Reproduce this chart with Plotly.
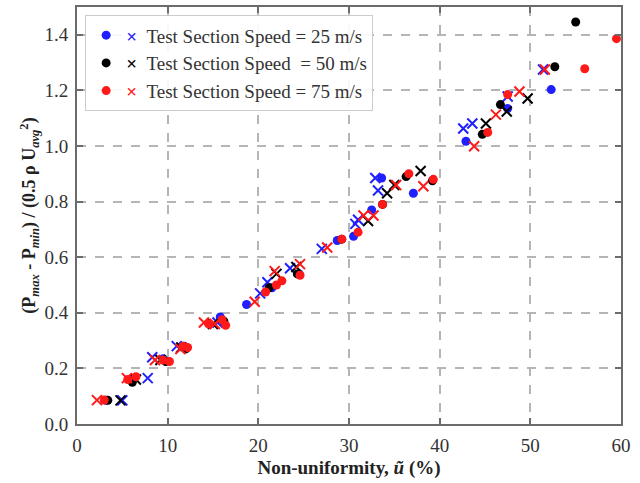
import plotly.graph_objects as go

# ---- data (x = non-uniformity %, y = normalized pressure difference) ----
blue_circ_x = [3.2, 6.0, 9.5, 11.8, 15.8, 18.7, 21.5, 24.5, 28.7, 30.5, 32.5, 33.6, 37.1, 42.9, 47.5, 52.3]
blue_circ_y = [0.085, 0.16, 0.235, 0.28, 0.385, 0.43, 0.49, 0.54, 0.66, 0.675, 0.77, 0.885, 0.83, 1.017, 1.135, 1.203]

blue_x_x = [5.0, 7.8, 8.3, 11.0, 15.5, 20.2, 21.0, 23.5, 27.0, 30.7, 31.0, 33.2, 32.9, 42.6, 43.6, 47.5, 51.4]
blue_x_y = [0.085, 0.165, 0.24, 0.28, 0.365, 0.47, 0.51, 0.56, 0.63, 0.72, 0.735, 0.84, 0.885, 1.063, 1.081, 1.178, 1.275]

black_circ_x = [3.4, 6.1, 9.8, 12.0, 16.2, 21.2, 24.3, 29.2, 33.7, 36.3, 39.2, 44.7, 46.7, 52.7, 55.0]
black_circ_y = [0.085, 0.15, 0.225, 0.27, 0.37, 0.49, 0.54, 0.665, 0.79, 0.89, 0.875, 1.042, 1.149, 1.285, 1.446]

black_x_x = [4.8, 6.5, 9.2, 11.5, 15.0, 22.0, 24.2, 32.1, 34.2, 35.0, 37.9, 45.1, 47.4, 49.7]
black_x_y = [0.085, 0.16, 0.23, 0.275, 0.36, 0.54, 0.565, 0.73, 0.83, 0.86, 0.91, 1.081, 1.124, 1.171]

red_circ_x = [3.0, 5.6, 6.5, 9.5, 10.2, 11.7, 12.2, 14.5, 16.0, 16.4, 20.8, 22.0, 22.6, 24.6, 29.2, 31.0, 33.7, 36.6, 39.3, 45.3, 47.5, 56.0, 59.5]
red_circ_y = [0.086, 0.16, 0.17, 0.23, 0.225, 0.28, 0.275, 0.36, 0.375, 0.355, 0.475, 0.5, 0.515, 0.535, 0.665, 0.69, 0.79, 0.9, 0.88, 1.049, 1.185, 1.278, 1.386]

red_x_x = [2.2, 5.5, 8.6, 11.4, 14.0, 15.2, 19.6, 21.8, 24.6, 27.6, 31.6, 32.7, 35.2, 38.2, 43.8, 46.2, 48.8, 51.6]
red_x_y = [0.086, 0.165, 0.23, 0.27, 0.365, 0.36, 0.44, 0.55, 0.575, 0.635, 0.75, 0.75, 0.86, 0.855, 0.999, 1.113, 1.196, 1.275]

labels = ["Test Section Speed = 25 m/s", "Test Section Speed &nbsp;= 50 m/s", "Test Section Speed = 75 m/s"]
colors = ["#1f1fff", "#000000", "#ff1a1a"]

series = [
    (blue_circ_x, blue_circ_y, blue_x_x, blue_x_y),
    (black_circ_x, black_circ_y, black_x_x, black_x_y),
    (red_circ_x, red_circ_y, red_x_x, red_x_y),
]

fig = go.Figure()
for (cx, cy, xx, xy), lab, col in zip(series, labels, colors):
    fig.add_trace(go.Scatter(
        x=cx, y=cy, mode="markers",
        name=f"<span style='color:{col}'><b>×</b></span>&nbsp;&nbsp;{lab}",
        marker=dict(symbol="circle", size=9, color=col),
    ))
    fig.add_trace(go.Scatter(
        x=xx, y=xy, mode="markers", showlegend=False,
        marker=dict(symbol="x-thin-open", size=10, color=col, line=dict(color=col, width=2)),
    ))

serif = "Liberation Serif"
axis_common = dict(
    showline=True, linecolor="#6b6b6b", linewidth=2, mirror="ticks",
    ticks="inside", ticklen=6, tickwidth=1.5, tickcolor="#6b6b6b",
    showgrid=True, gridcolor="#b5b5b5", gridwidth=1.5, griddash="dash",
    zeroline=False, ticklabelstandoff=3,
    tickfont=dict(family=serif, size=19, color="#333333"),
)

fig.update_layout(
    width=640, height=483,
    margin=dict(l=77, r=19, t=5, b=59),
    paper_bgcolor="white", plot_bgcolor="white",
    xaxis=dict(range=[0, 60], dtick=10, **axis_common,
               title=dict(text="<b>Non-uniformity, <i>ũ</i> (%)</b>",
                          font=dict(family=serif, size=19, color="#222222"), standoff=6)),
    yaxis=dict(range=[0, 1.5], dtick=0.2, tickformat=".1f", **axis_common,
               title=dict(text="<b>(P<sub><i>max</i></sub> - P<sub><i>min</i></sub>) / (0.5 ρ U<sub><i>avg</i></sub><sup>2</sup>)</b>",
                          font=dict(family=serif, size=18, color="#222222"), standoff=4)),
    legend=dict(x=0.015, y=0.98, xanchor="left", yanchor="top",
                bgcolor="rgba(255,255,255,0.9)", bordercolor="#cccccc", borderwidth=1,
                font=dict(family=serif, size=19, color="#333333")),
    showlegend=True,
)

fig.write_html("out.html")
